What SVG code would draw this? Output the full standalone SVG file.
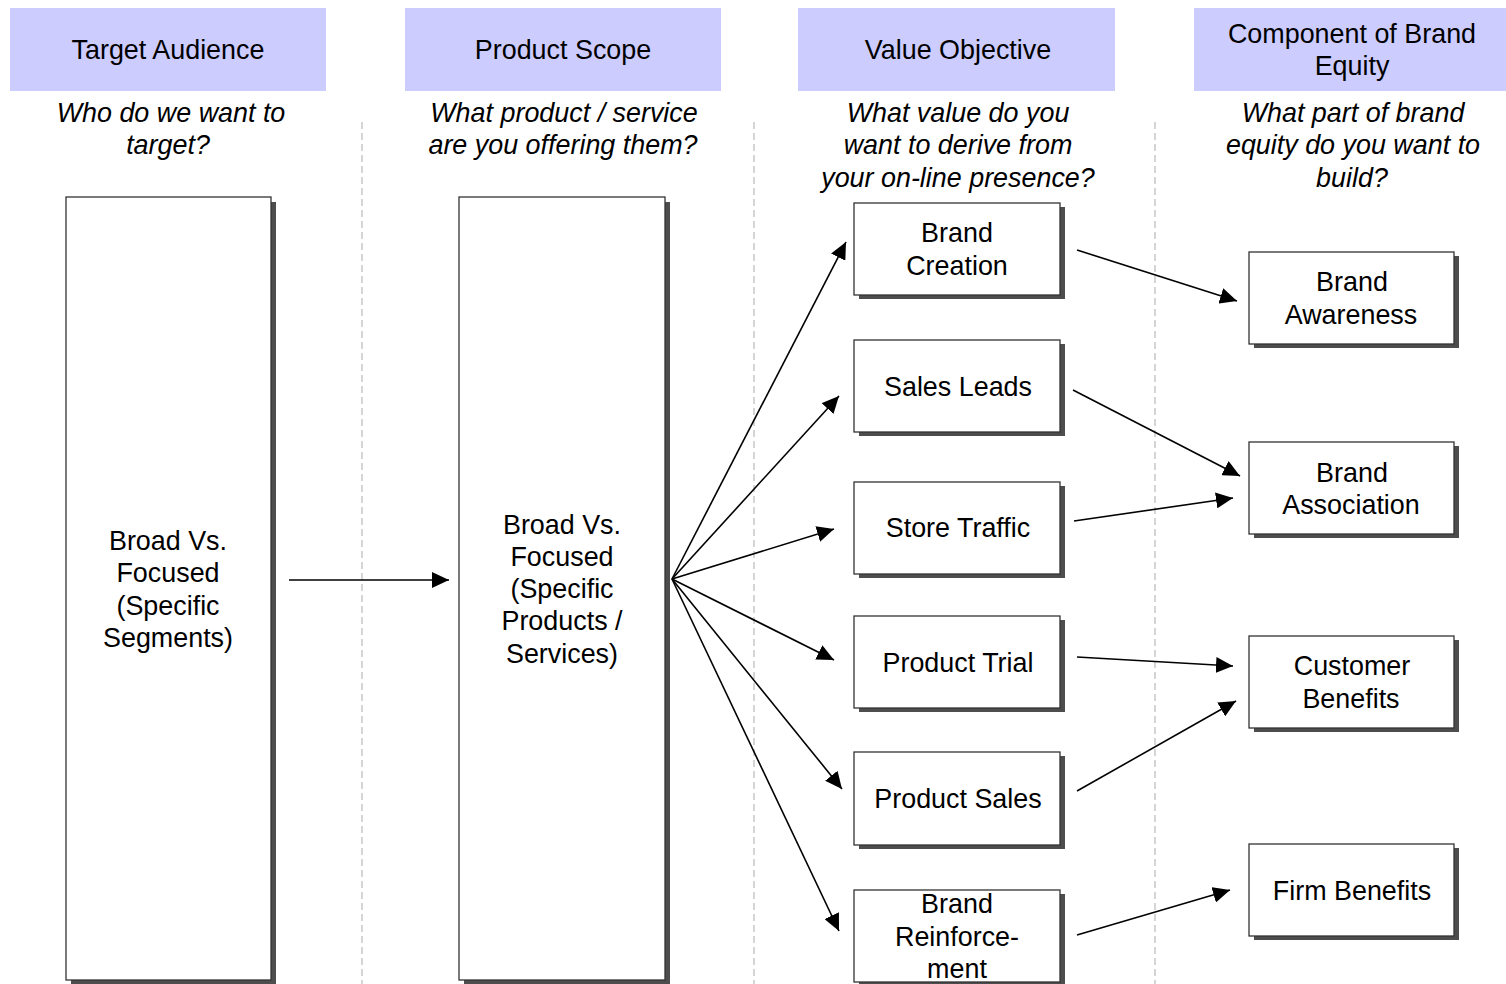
<svg xmlns="http://www.w3.org/2000/svg" width="1506" height="984" viewBox="0 0 1506 984">
  <style>
    .hdr { fill: #ccccff; }
    .txt { font-family: "Liberation Sans", Arial, sans-serif; font-size: 26.9px; fill: #000; text-anchor: middle; }
    .it { font-style: italic; }
    .box { fill: #fff; stroke: #333; stroke-width: 1.3; }
    .shadow { fill: #4d4d4d; }
    .sep { stroke: #c8c8c8; stroke-width: 1.5; stroke-dasharray: 7 4; fill: none; }
    .conn { stroke: #000; stroke-width: 1.6; fill: none; marker-end: url(#arrow); }
  </style>
  <defs>
    <marker id="arrow" viewBox="0 0 17 16" markerWidth="17" markerHeight="16" refX="17" refY="8" orient="auto" markerUnits="userSpaceOnUse">
      <path d="M0,0 L17,8 L0,16 Z" fill="#000"/>
    </marker>
  </defs>

  <rect width="1506" height="984" fill="#fff"/>

  <!-- column separators -->
  <g id="separators">
    <line class="sep" x1="362" y1="122" x2="362" y2="984"/>
    <line class="sep" x1="754" y1="122" x2="754" y2="984"/>
    <line class="sep" x1="1155" y1="122" x2="1155" y2="984"/>
  </g>

  <!-- column headers and questions -->
  <g id="col-audience">
    <rect class="hdr" x="10" y="8" width="316" height="83"/>
    <text class="txt" x="168" y="59">Target Audience</text>
    <text class="txt it" x="171" y="121.5">Who do we want to</text>
    <text class="txt it" x="168" y="154">target?</text>
  </g>
  <g id="col-scope">
    <rect class="hdr" x="405" y="8" width="316" height="83"/>
    <text class="txt" x="563" y="59">Product Scope</text>
    <text class="txt it" x="564" y="121.5">What product / service</text>
    <text class="txt it" x="563" y="154">are you offering them?</text>
  </g>
  <g id="col-value">
    <rect class="hdr" x="798" y="8" width="317" height="83"/>
    <text class="txt" x="958" y="59">Value Objective</text>
    <text class="txt it" x="958" y="121.5">What value do you</text>
    <text class="txt it" x="958" y="154">want to derive from</text>
    <text class="txt it" x="958" y="186.5">your on-line presence?</text>
  </g>
  <g id="col-equity">
    <rect class="hdr" x="1194" y="8" width="312" height="83"/>
    <text class="txt" x="1352" y="43">Component of Brand</text>
    <text class="txt" x="1352" y="75">Equity</text>
    <text class="txt it" x="1353" y="121.5">What part of brand</text>
    <text class="txt it" x="1353" y="154">equity do you want to</text>
    <text class="txt it" x="1352" y="186.5">build?</text>
  </g>

  <!-- tall boxes -->
  <g id="node-audience">
    <rect class="shadow" x="71" y="202" width="205" height="782"/>
    <rect class="box" x="66" y="197" width="205" height="783"/>
    <text class="txt" x="168" y="550">Broad Vs.</text>
    <text class="txt" x="168" y="582">Focused</text>
    <text class="txt" x="168" y="615">(Specific</text>
    <text class="txt" x="168" y="647">Segments)</text>
  </g>
  <g id="node-scope">
    <rect class="shadow" x="464" y="202" width="206" height="782"/>
    <rect class="box" x="459" y="197" width="206" height="783"/>
    <text class="txt" x="562" y="534">Broad Vs.</text>
    <text class="txt" x="562" y="566">Focused</text>
    <text class="txt" x="562" y="598">(Specific</text>
    <text class="txt" x="562" y="630">Products /</text>
    <text class="txt" x="562" y="663">Services)</text>
  </g>

  <!-- value objective boxes -->
  <g id="node-brand-creation">
    <rect class="shadow" x="859" y="207" width="206" height="92"/>
    <rect class="box" x="854" y="203" width="206" height="92"/>
    <text class="txt" x="957" y="242">Brand</text>
    <text class="txt" x="957" y="275">Creation</text>
  </g>
  <g id="node-sales-leads">
    <rect class="shadow" x="859" y="344" width="206" height="92"/>
    <rect class="box" x="854" y="340" width="206" height="92"/>
    <text class="txt" x="958" y="396">Sales Leads</text>
  </g>
  <g id="node-store-traffic">
    <rect class="shadow" x="859" y="486" width="206" height="92"/>
    <rect class="box" x="854" y="482" width="206" height="92"/>
    <text class="txt" x="958" y="537">Store Traffic</text>
  </g>
  <g id="node-product-trial">
    <rect class="shadow" x="859" y="620" width="206" height="92"/>
    <rect class="box" x="854" y="616" width="206" height="92"/>
    <text class="txt" x="958" y="672">Product Trial</text>
  </g>
  <g id="node-product-sales">
    <rect class="shadow" x="859" y="756" width="206" height="93"/>
    <rect class="box" x="854" y="752" width="206" height="93"/>
    <text class="txt" x="958" y="808">Product Sales</text>
  </g>
  <g id="node-brand-reinforcement">
    <rect class="shadow" x="859" y="894" width="206" height="92"/>
    <rect class="box" x="854" y="890" width="206" height="92"/>
    <text class="txt" x="957" y="913">Brand</text>
    <text class="txt" x="957" y="946">Reinforce-</text>
    <text class="txt" x="957" y="978">ment</text>
  </g>

  <!-- brand equity boxes -->
  <g id="node-brand-awareness">
    <rect class="shadow" x="1254" y="256" width="205" height="92"/>
    <rect class="box" x="1249" y="252" width="205" height="92"/>
    <text class="txt" x="1352" y="291">Brand</text>
    <text class="txt" x="1351" y="324">Awareness</text>
  </g>
  <g id="node-brand-association">
    <rect class="shadow" x="1254" y="446" width="205" height="92"/>
    <rect class="box" x="1249" y="442" width="205" height="92"/>
    <text class="txt" x="1352" y="482">Brand</text>
    <text class="txt" x="1351" y="514">Association</text>
  </g>
  <g id="node-customer-benefits">
    <rect class="shadow" x="1254" y="640" width="205" height="92"/>
    <rect class="box" x="1249" y="636" width="205" height="92"/>
    <text class="txt" x="1352" y="675">Customer</text>
    <text class="txt" x="1351" y="708">Benefits</text>
  </g>
  <g id="node-firm-benefits">
    <rect class="shadow" x="1254" y="848" width="205" height="92"/>
    <rect class="box" x="1249" y="844" width="205" height="92"/>
    <text class="txt" x="1352" y="900">Firm Benefits</text>
  </g>

  <!-- connectors -->
  <g id="connectors">
    <line class="conn" x1="289" y1="580" x2="449" y2="580"/>
    <line class="conn" x1="672" y1="579" x2="846" y2="242"/>
    <line class="conn" x1="672" y1="579" x2="839" y2="396"/>
    <line class="conn" x1="672" y1="579" x2="834" y2="529"/>
    <line class="conn" x1="672" y1="579" x2="834" y2="660"/>
    <line class="conn" x1="672" y1="579" x2="842" y2="789"/>
    <line class="conn" x1="672" y1="579" x2="839" y2="931"/>
    <line class="conn" x1="1077" y1="250" x2="1237" y2="301"/>
    <line class="conn" x1="1073" y1="390" x2="1240" y2="476"/>
    <line class="conn" x1="1074" y1="521" x2="1233" y2="498"/>
    <line class="conn" x1="1077" y1="657" x2="1233" y2="666"/>
    <line class="conn" x1="1077" y1="791" x2="1236" y2="701"/>
    <line class="conn" x1="1077" y1="935" x2="1230" y2="890"/>
  </g>
</svg>
